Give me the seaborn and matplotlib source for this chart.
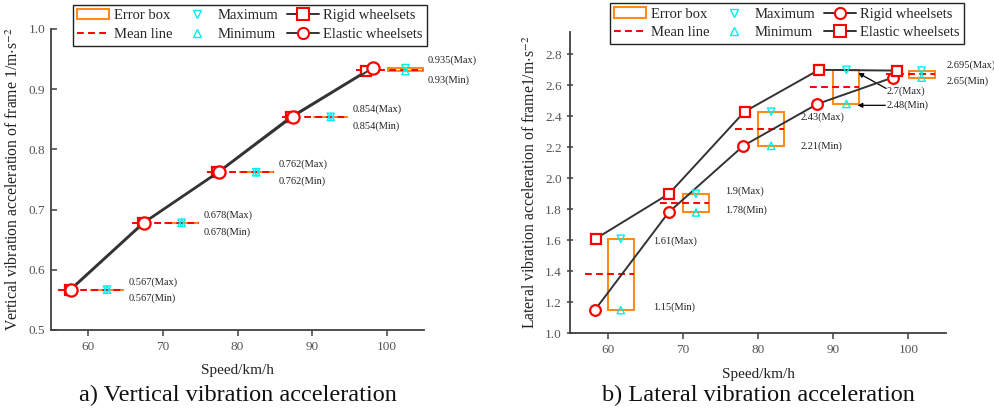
import numpy as np
import matplotlib
matplotlib.use("Agg")
import matplotlib.pyplot as plt
import seaborn as sns
from matplotlib.lines import Line2D
from matplotlib.patches import Patch

# ---- data -------------------------------------------------------------
speed_groups = [60, 70, 80, 90, 100]
speed_ticks = [60, 70, 80, 90, 100]

# a) vertical vibration acceleration of frame
vert_rigid_speed = [57.5, 67.3, 77.3, 87.1, 97.2]
vert_rigid = [0.567, 0.678, 0.762, 0.854, 0.930]
vert_elastic_speed = [57.7, 67.5, 77.5, 87.4, 98.1]
vert_elastic = [0.567, 0.678, 0.762, 0.854, 0.935]
vert_yticks = [0.5, 0.6, 0.7, 0.8, 0.9, 1.0]

# b) lateral vibration acceleration of frame
lat_rigid_speed = [58.3, 68.1, 78.05, 87.9, 97.9]
lat_rigid = [1.15, 1.78, 2.21, 2.48, 2.65]
lat_elastic_speed = [58.4, 68.15, 78.2, 88.1, 98.5]
lat_elastic = [1.61, 1.90, 2.43, 2.70, 2.695]
lat_yticks = [1.0, 1.2, 1.4, 1.6, 1.8, 2.0, 2.2, 2.4, 2.6, 2.8]

# ---- style ------------------------------------------------------------
sns.set_style("ticks")
plt.rcParams["font.family"] = ["Liberation Serif", "DejaVu Serif"]
plt.rcParams["mathtext.fontset"] = "stix"

ORANGE = "#ff8c1a"
RED = "#ff0000"
CYAN = "#00f0f0"
LINE = "#333333"
AXIS = "#404040"
TICK_TXT = "#555555"


def fmt(v):
    s = f"{v:.3f}".rstrip("0")
    return s.rstrip(".") if s.endswith(".") else s


def style_axes(ax, xlim, ylim, yticks, ydir):
    ax.set_xlim(*xlim)
    ax.set_ylim(*ylim)
    ax.set_xticks(speed_ticks)
    ax.set_yticks(yticks)
    ax.set_yticklabels([f"{t:.1f}" for t in yticks])
    for side in ("top", "right"):
        ax.spines[side].set_visible(False)
    for side in ("left", "bottom"):
        ax.spines[side].set_color(AXIS)
        ax.spines[side].set_linewidth(1.3)
    ax.tick_params(axis="x", direction="out", length=4, width=1.1,
                   color=AXIS, labelsize=9.5, labelcolor=TICK_TXT, pad=4)
    ax.tick_params(axis="y", direction=ydir, length=4, width=1.1,
                   color=AXIS, labelsize=9.5, labelcolor=TICK_TXT, pad=4)
    ax.set_xlabel("Speed/km/h", fontsize=11, color="#222222", labelpad=8)


def draw_boxes(ax, rigid, elastic, box_off, box_w, mean_from, tri_ms):
    hi = np.maximum(rigid, elastic)
    lo = np.minimum(rigid, elastic)
    mean = (hi + lo) / 2
    groups = np.asarray(speed_groups, dtype=float)
    centers = groups + box_off
    ax.bar(centers, hi - lo, bottom=lo, width=box_w, fill=False,
           edgecolor=ORANGE, linewidth=1.5, zorder=2)
    ax.hlines(mean, groups + mean_from, centers + box_w / 2, colors=RED,
              linestyles=(0, (3.5, 2.2)), linewidth=1.4, zorder=3)
    sns.scatterplot(x=centers, y=hi, marker="v", s=tri_ms, facecolor="none",
                    edgecolor=CYAN, linewidth=1.0, color=CYAN, zorder=6,
                    legend=False, ax=ax)
    sns.scatterplot(x=centers, y=lo, marker="^", s=tri_ms, facecolor="none",
                    edgecolor=CYAN, linewidth=1.0, color=CYAN, zorder=6,
                    legend=False, ax=ax)
    return hi, lo, centers


def draw_series(ax, xs, ys, marker, ms, z):
    sns.lineplot(x=xs, y=ys, color=LINE, linewidth=1.4, marker=marker,
                 markersize=ms, markerfacecolor="white",
                 markeredgecolor=RED, markeredgewidth=1.6, sort=False,
                 estimator=None, legend=False, zorder=z, ax=ax)


def make_legend(ax, rigid_marker, elastic_marker, ms, anchor):
    handles = [
        Patch(facecolor="none", edgecolor=ORANGE, linewidth=1.5),
        Line2D([], [], color=RED, linestyle=(0, (3.5, 2.2)), linewidth=1.4),
        Line2D([], [], linestyle="none", marker="v", markersize=6,
               markerfacecolor="none", markeredgecolor=CYAN),
        Line2D([], [], linestyle="none", marker="^", markersize=6,
               markerfacecolor="none", markeredgecolor=CYAN),
        Line2D([], [], color=LINE, linewidth=1.4, marker=rigid_marker,
               markersize=ms, markerfacecolor="white", markeredgecolor=RED,
               markeredgewidth=1.5),
        Line2D([], [], color=LINE, linewidth=1.4, marker=elastic_marker,
               markersize=ms, markerfacecolor="white", markeredgecolor=RED,
               markeredgewidth=1.5),
    ]
    labels = ["Error box", "Mean line", "Maximum", "Minimum",
              "Rigid wheelsets", "Elastic wheelsets"]
    leg = ax.legend(handles, labels, ncol=3, loc="upper right",
                    bbox_to_anchor=anchor, fontsize=10.5, frameon=True,
                    fancybox=False, framealpha=1, edgecolor="#222222",
                    handlelength=2.2, handletextpad=0.3, columnspacing=0.6,
                    labelspacing=0.38, borderpad=0.3, borderaxespad=0)
    leg.get_frame().set_linewidth(1.0)
    leg.set_zorder(10)


fig = plt.figure(figsize=(9.95, 4.11), dpi=100)
ax1 = fig.add_axes([0.0513, 0.1971, 0.3749, 0.7324])
ax2 = fig.add_axes([0.5729, 0.1890, 0.3779, 0.7331])

# ---- a) vertical ------------------------------------------------------
hi, lo, centers = draw_boxes(ax1, vert_rigid, vert_elastic, 2.5, 4.65, -4.1, 28)
draw_series(ax1, vert_rigid_speed, vert_rigid, "s", 7.2, 4)
draw_series(ax1, vert_elastic_speed, vert_elastic, "o", 8.8, 5)
for c, h, l in zip(centers, hi, lo):
    ax1.text(c + 2.95, h + 0.013, f"{fmt(h)}(Max)", fontsize=7.5,
             va="center", ha="left", color="#222222", clip_on=False)
    ax1.text(c + 2.95, l - 0.015, f"{fmt(l)}(Min)", fontsize=7.5,
             va="center", ha="left", color="#222222", clip_on=False)
style_axes(ax1, (55, 105), (0.5, 1.0), vert_yticks, "in")
ax1.set_ylabel("Vertical vibration acceleration of frame 1/m$\\cdot$s$^{-2}$",
               fontsize=11.3, color="#222222")
ax1.yaxis.set_label_coords(-0.078, 0.5)
make_legend(ax1, "s", "o", 8, (1.008, 1.08))

# ---- b) lateral -------------------------------------------------------
hi, lo, centers = draw_boxes(ax2, lat_rigid, lat_elastic, 1.75, 3.45, -3.05, 28)
draw_series(ax2, lat_rigid_speed, lat_rigid, "o", 7.7, 4)
draw_series(ax2, lat_elastic_speed, lat_elastic, "s", 6.5, 5)

# label offsets (dx from box centre, dy from value)
lat_max_dx = [4.25, 3.85, 3.85, 0, 3.3]
lat_max_dy = [-0.016, 0.017, -0.034, 0, 0.034]
lat_min_dx = [4.25, 3.85, 3.85, 0, 3.3]
lat_min_dy = [0.02, 0.015, -0.001, 0, -0.024]
for i, (c, h, l) in enumerate(zip(centers, hi, lo)):
    if i == 3:
        right = c + 3.45 / 2
        ax2.annotate("", xy=(right - 0.15, h - 0.02), xytext=(right + 3.55, h - 0.12),
                     arrowprops=dict(arrowstyle="-|>", color="black", lw=0.9,
                                     mutation_scale=7, shrinkA=0, shrinkB=0))
        ax2.text(right + 3.65, h - 0.14, f"{fmt(h)}(Max)", fontsize=7.5,
                 va="center", ha="left", color="#222222", clip_on=False)
        ax2.annotate("", xy=(right - 0.25, l - 0.009), xytext=(right + 3.45, l - 0.009),
                     arrowprops=dict(arrowstyle="-|>", color="black", lw=0.9,
                                     mutation_scale=7, shrinkA=0, shrinkB=0))
        ax2.text(right + 3.55, l - 0.009, f"{fmt(l)}(Min)", fontsize=7.5,
                 va="center", ha="left", color="#222222", clip_on=False)
        continue
    ax2.text(c + lat_max_dx[i], h + lat_max_dy[i], f"{fmt(h)}(Max)", fontsize=7.5,
             va="center", ha="left", color="#222222", clip_on=False)
    ax2.text(c + lat_min_dx[i], l + lat_min_dy[i], f"{fmt(l)}(Min)", fontsize=7.5,
             va="center", ha="left", color="#222222", clip_on=False)
style_axes(ax2, (55, 105), (1.0, 2.944), lat_yticks, "inout")
ax2.set_ylabel("Lateral vibration acceleration of frame1/m$\\cdot$s$^{-2}$",
               fontsize=11.3, color="#222222")
ax2.yaxis.set_label_coords(-0.082, 0.5)
make_legend(ax2, "o", "s", 8, (1.048, 1.096))

# ---- captions ---------------------------------------------------------
fig.text(237.5 / 995, 1 - 395 / 411, "a) Vertical vibration acceleration",
         ha="center", va="center", fontsize=17.5, color="#111111")
fig.text(758 / 995, 1 - 395 / 411, "b) Lateral vibration acceleration",
         ha="center", va="center", fontsize=17.5, color="#111111")

fig.savefig("out.png", dpi=100, facecolor="white")
